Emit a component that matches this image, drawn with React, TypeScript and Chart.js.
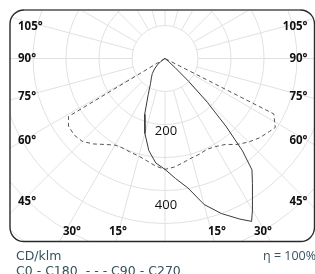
import React, { useEffect, useRef } from "react";
import { Chart, registerables } from "chart.js";

Chart.register(...registerables);

// ---- Data (cd/klm), gamma angles in degrees measured from nadir ----
const gammaC0 = [0, 5, 10, 15, 20, 25, 28, 30, 35, 38, 40, 42, 44, 46, 48, 50, 55, 90, 180];
const valuesC0 = [336, 365, 398, 458, 500, 537, 559, 530, 462, 428, 365, 275, 185, 100, 40, 15, 0, 0, 0];

const gammaC180 = [0, 5, 10, 15, 20, 25, 30, 35, 40, 45, 50, 55, 60, 70, 90, 180];
const valuesC180 = [336, 318, 283, 235, 180, 120, 88, 72, 60, 45, 30, 15, 5, 0, 0, 0];

const gammaC90 = [0, 5, 10, 15, 20, 25, 30, 35, 40, 45, 50, 55, 58, 63, 65, 90, 180];
const valuesC90 = [336, 330, 320, 312, 308, 303, 308, 318, 340, 358, 374, 386, 394, 370, 0, 0, 0];

const gammaC270 = [0, 5, 10, 15, 20, 25, 30, 35, 40, 45, 50, 55, 59, 62, 90, 180];
const valuesC270 = [336, 327, 315, 306, 303, 300, 303, 318, 338, 355, 360, 357, 341, 0, 0, 0];

// ---- Grid / tick definitions ----
const ringValues = [100, 200, 300, 400, 500, 600, 700, 800];
const spokeStep = 15;
const sideAngleLabels = [45, 60, 75, 90, 105];
const bottomAngleLabels = [15, 30];
const intensityLabels = [200, 400];

const legendUnit = "CD/klm";
const legendSeries = "C0 - C180  - - - C90 - C270";
const efficiencyText = "η = 100%";

// ---- Layout (pixels) ----
const W = 315;
const H = 274;
const FRAME = { left: 10, top: 10, right: 314.5, bottom: 241.5, radius: 14 };
const CENTER_PX = { x: 165, y: 58.5 };
const PX_PER_CD = 0.33;

const rad = (d: number) => (d * Math.PI) / 180;

function halfPlane(gammas: number[], values: number[], side: number) {
  return gammas.map((g, i) => ({
    x: side * values[i] * Math.sin(rad(g)),
    y: -values[i] * Math.cos(rad(g)),
  }));
}

function curve(lg: number[], lv: number[], rg: number[], rv: number[]) {
  const left = halfPlane(lg, lv, -1).reverse();
  const right = halfPlane(rg, rv, 1).slice(1);
  return [...left, ...right];
}

function roundRectPath(ctx: CanvasRenderingContext2D, l: number, t: number, r: number, b: number, rr: number) {
  ctx.beginPath();
  ctx.moveTo(l + rr, t);
  ctx.lineTo(r - rr, t);
  ctx.arcTo(r, t, r, t + rr, rr);
  ctx.lineTo(r, b - rr);
  ctx.arcTo(r, b, r - rr, b, rr);
  ctx.lineTo(l + rr, b);
  ctx.arcTo(l, b, l, b - rr, rr);
  ctx.lineTo(l, t + rr);
  ctx.arcTo(l, t, l + rr, t, rr);
  ctx.closePath();
}

const polarGrid = {
  id: "polarGrid",
  beforeDatasetsDraw(chart: any) {
    const { ctx, scales } = chart;
    const xs = scales.x;
    const ys = scales.y;
    const cx = xs.getPixelForValue(0);
    const cy = ys.getPixelForValue(0);
    const rOf = (v: number) => xs.getPixelForValue(v) - cx;
    ctx.save();
    roundRectPath(ctx, FRAME.left, FRAME.top, FRAME.right, FRAME.bottom, FRAME.radius);
    ctx.clip();
    ctx.strokeStyle = "#e1e1e1";
    ctx.lineWidth = 1;
    ringValues.forEach((v) => {
      ctx.beginPath();
      ctx.arc(cx, cy, rOf(v), 0, Math.PI * 2);
      ctx.stroke();
    });
    const r0 = rOf(ringValues[0]);
    const r1 = rOf(ringValues[ringValues.length - 1]) + 50;
    for (let a = 0; a < 360; a += spokeStep) {
      const dx = Math.sin(rad(a));
      const dy = Math.cos(rad(a));
      ctx.beginPath();
      ctx.moveTo(cx + dx * r0, cy + dy * r0);
      ctx.lineTo(cx + dx * r1, cy + dy * r1);
      ctx.stroke();
    }
    ctx.restore();
  },
  afterDatasetsDraw(chart: any) {
    const { ctx, scales } = chart;
    const xs = scales.x;
    const ys = scales.y;
    const cx = xs.getPixelForValue(0);
    const cy = ys.getPixelForValue(0);
    ctx.save();
    // frame
    roundRectPath(ctx, FRAME.left, FRAME.top, FRAME.right, FRAME.bottom, FRAME.radius);
    ctx.strokeStyle = "#2a2a2a";
    ctx.lineWidth = 1.4;
    ctx.stroke();
    ctx.beginPath();
    ctx.moveTo(FRAME.left + FRAME.radius, FRAME.top);
    ctx.lineTo(FRAME.right - FRAME.radius, FRAME.top);
    ctx.strokeStyle = "#7a7a7a";
    ctx.lineWidth = 2.2;
    ctx.stroke();

    // angle labels on the sides
    ctx.fillStyle = "#111";
    ctx.font = 'bold 11.5px "Open Sans"';
    ctx.textBaseline = "middle";
    const sideDist = 143;
    sideAngleLabels.forEach((g) => {
      let y = cy + sideDist / Math.tan(rad(g));
      y = Math.max(y, FRAME.top + 17);
      const txt = g + "°";
      ctx.textAlign = "left";
      ctx.fillText(txt, FRAME.left + 8, y);
      ctx.textAlign = "right";
      ctx.fillText(txt, FRAME.right - 7, y);
    });
    // bottom angle labels
    const by = FRAME.bottom - 10;
    const bottomDist = [0, 49.5, 95.5];
    bottomAngleLabels.forEach((g, i) => {
      const d = bottomDist[i + 1];
      const txt = g + "°";
      ctx.textAlign = "center";
      ctx.fillText(txt, cx + 2.5 - d, by);
      ctx.fillText(txt, cx + 2.5 + d, by);
    });

    // intensity labels
    ctx.font = '13px "Open Sans"';
    ctx.fillStyle = "#111";
    ctx.textAlign = "center";
    intensityLabels.forEach((v) => {
      const y = ys.getPixelForValue(-v * 1.11);
      ctx.fillText(String(v), cx + 1, y);
    });

    // footer text
    ctx.fillStyle = "#36525e";
    ctx.font = '12.5px "DejaVu Sans"';
    ctx.textBaseline = "alphabetic";
    ctx.textAlign = "left";
    ctx.fillText(legendUnit, 16, 260);
    ctx.fillText(legendSeries, 16, 275);
    ctx.font = '12.5px "Open Sans"';
    ctx.fillText(efficiencyText, 263, 260);
    ctx.restore();
  },
};

export default function App() {
  const ref = useRef<HTMLCanvasElement | null>(null);
  useEffect(() => {
    document.body.style.margin = "0";
    const canvas = ref.current;
    if (!canvas) return;
    const xMin = (FRAME.left - CENTER_PX.x) / PX_PER_CD;
    const xMax = (FRAME.right - CENTER_PX.x) / PX_PER_CD;
    const yMax = (CENTER_PX.y - FRAME.top) / PX_PER_CD;
    const yMin = -(FRAME.bottom - CENTER_PX.y) / PX_PER_CD;
    const chart = new Chart(canvas, {
      type: "scatter",
      data: {
        datasets: [
          {
            label: "C0 - C180",
            data: curve(gammaC180, valuesC180, gammaC0, valuesC0),
            showLine: true,
            borderColor: "#3a3a3a",
            borderWidth: 1,
            pointRadius: 0,
            tension: 0,
            fill: false,
          },
          {
            label: "C90 - C270",
            data: curve(gammaC270, valuesC270, gammaC90, valuesC90),
            showLine: true,
            borderColor: "#555",
            borderWidth: 1,
            borderDash: [4, 3],
            pointRadius: 0,
            tension: 0,
            fill: false,
          },
        ],
      },
      options: {
        animation: false,
        responsive: false,
        devicePixelRatio: 1,
        events: [],
        layout: {
          padding: {
            left: FRAME.left,
            top: FRAME.top,
            right: W - FRAME.right,
            bottom: H - FRAME.bottom,
          },
        },
        scales: {
          x: { type: "linear", display: false, min: xMin, max: xMax },
          y: { type: "linear", display: false, min: yMin, max: yMax },
        },
        plugins: { legend: { display: false }, tooltip: { enabled: false } },
      },
      plugins: [polarGrid],
    });
    return () => chart.destroy();
  }, []);
  return <canvas ref={ref} width={W} height={H} style={{ display: "block" }} />;
}
